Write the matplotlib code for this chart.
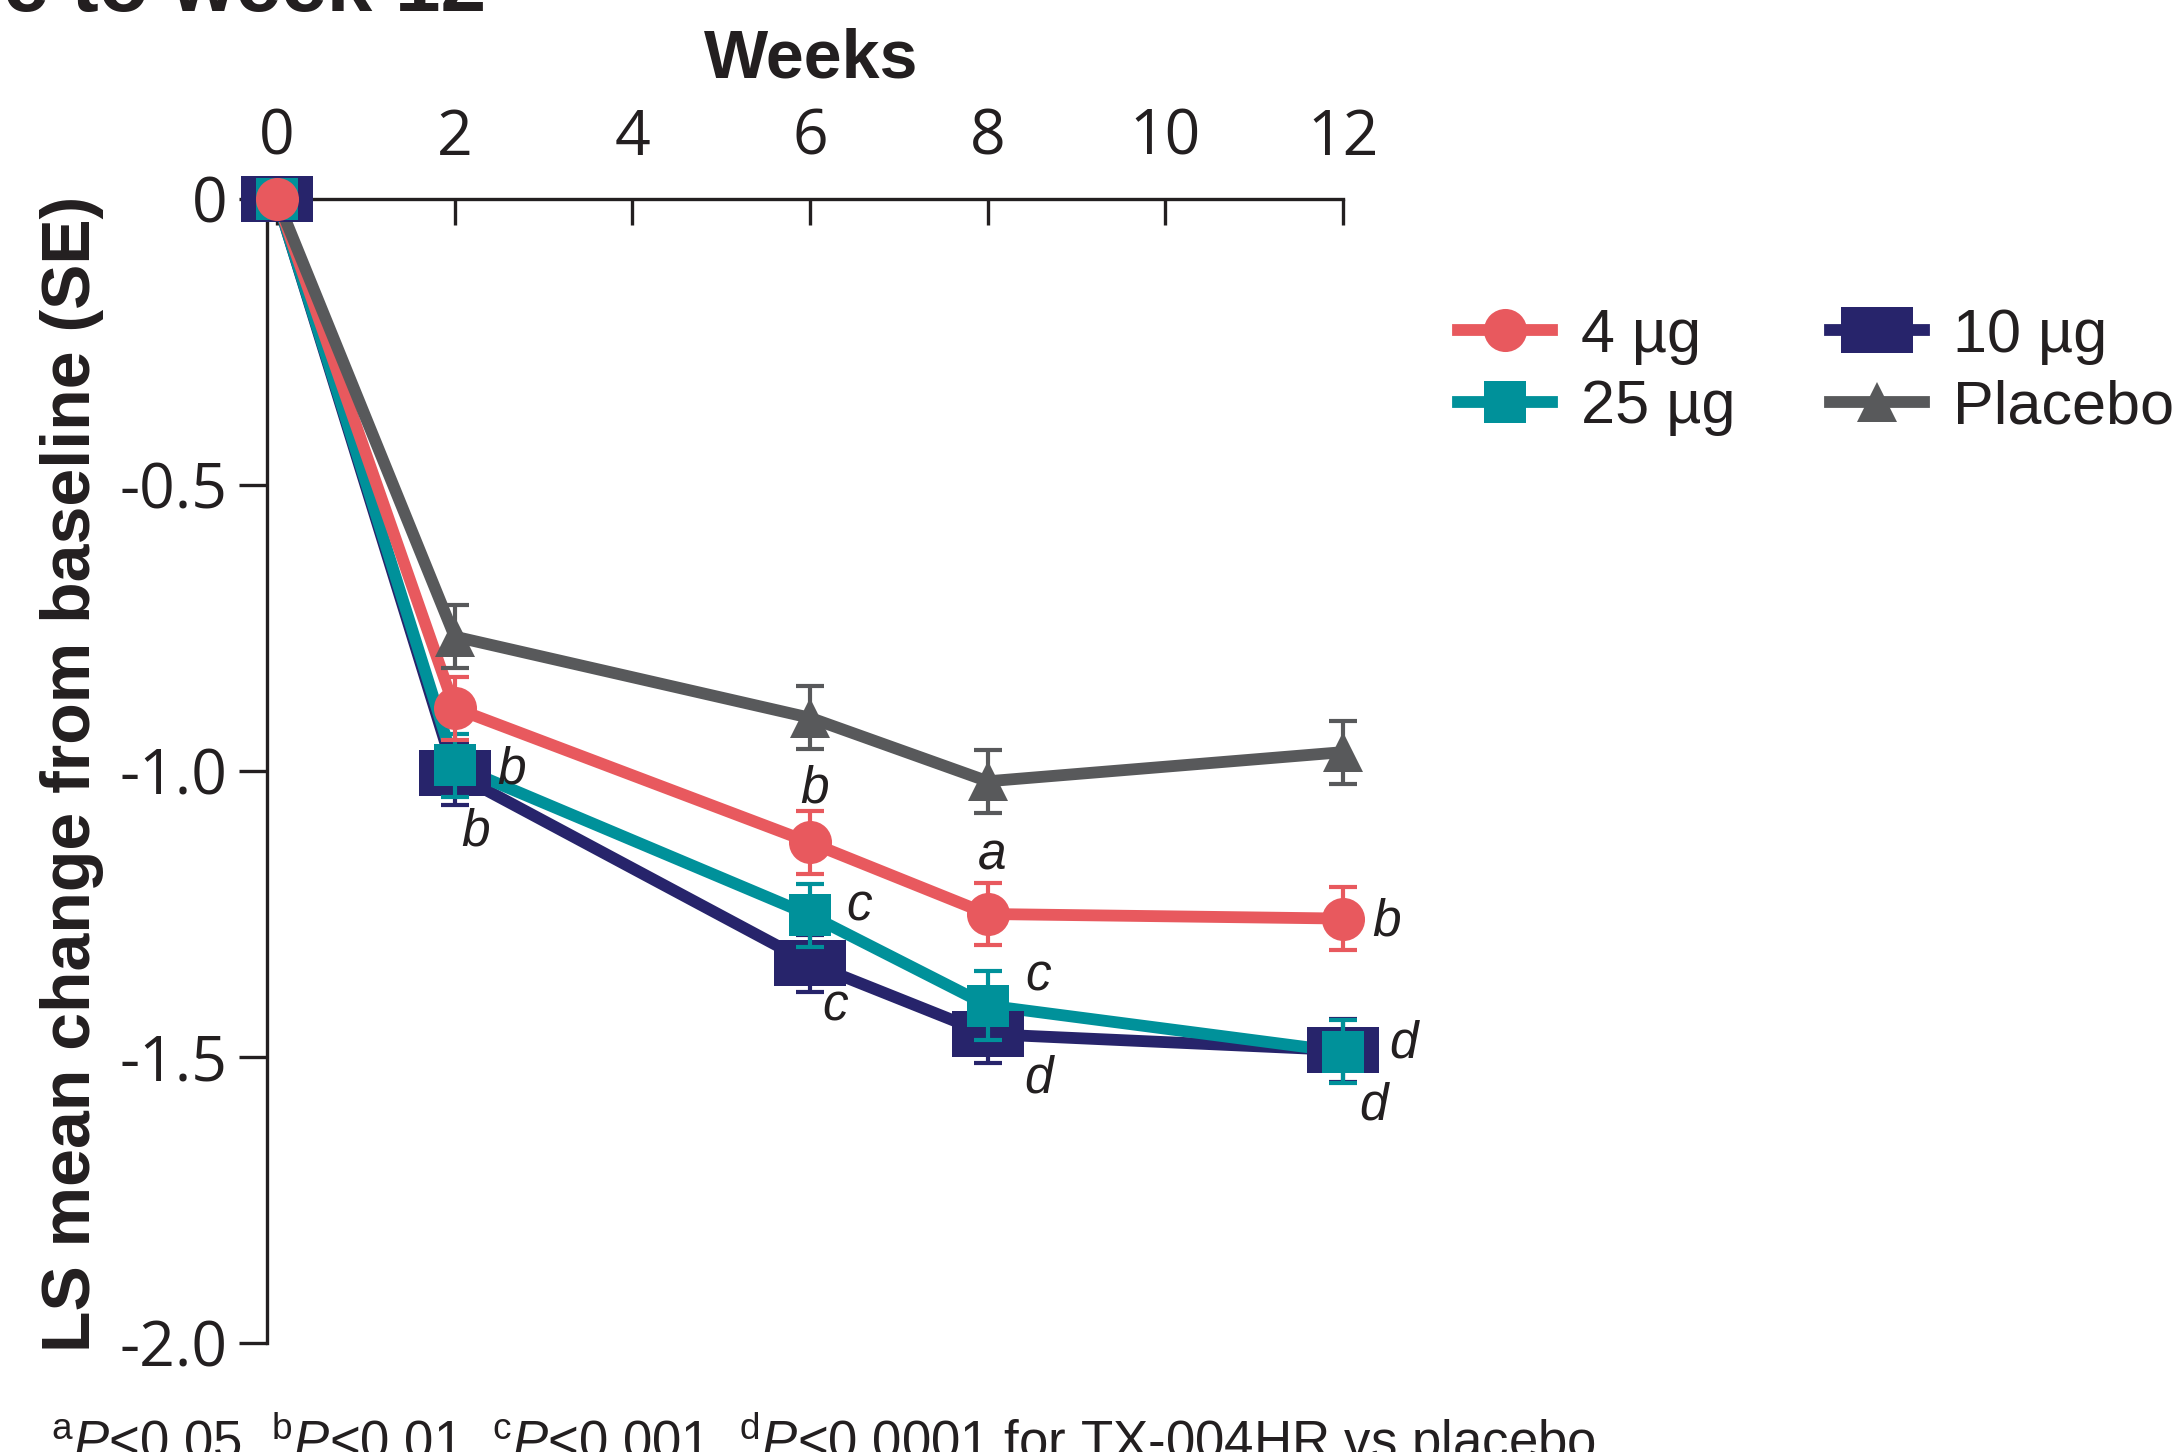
import matplotlib
matplotlib.use("Agg")
import matplotlib.pyplot as plt
from matplotlib.legend_handler import HandlerTuple

# LS mean change from baseline (SE) at each visit
weeks = [0, 2, 6, 8, 12]

mean_4ug = [0, -0.890, -1.125, -1.250, -1.258]
se_4ug = [0, 0.055, 0.055, 0.055, 0.055]
sig_4ug = ["", "", "b", "a", "b"]

mean_10ug = [0, -1.004, -1.336, -1.460, -1.488]
se_10ug = [0, 0.055, 0.050, 0.050, 0.055]
sig_10ug = ["", "b", "c", "d", "d"]

mean_25ug = [0, -0.990, -1.252, -1.410, -1.491]
se_25ug = [0, 0.055, 0.055, 0.060, 0.055]
sig_25ug = ["", "b", "c", "c", "d"]

mean_placebo = [0, -0.765, -0.907, -1.018, -0.967]
se_placebo = [0, 0.055, 0.055, 0.055, 0.055]
sig_placebo = ["", "", "", "", ""]

week_ticks = [0, 2, 4, 6, 8, 10, 12]
week_ticklabels = ["0", "2", "4", "6", "8", "10", "12"]
y_ticks = [0, -0.5, -1.0, -1.5, -2.0]
y_ticklabels = ["0", "-0.5", "-1.0", "-1.5", "-2.0"]

footnote = (r"$^{\mathrm{a}}\mathit{P}$<0.05, $^{\mathrm{b}}\mathit{P}$<0.01, "
            r"$^{\mathrm{c}}\mathit{P}$<0.001, $^{\mathrm{d}}\mathit{P}$<0.0001 "
            "for TX-004HR vs placebo")

plt.rcParams["font.family"] = ["Liberation Sans", "DejaVu Sans"]
plt.rcParams["mathtext.fontset"] = "custom"
plt.rcParams["mathtext.rm"] = "Liberation Sans"
plt.rcParams["mathtext.it"] = "Liberation Sans:italic"

INK = "#231F20"
RED = "#E8595E"
TEAL = "#00919A"
NAVY = "#27246B"
GRAY = "#58595B"

rect = [(-1.6, -1), (1.6, -1), (1.6, 1), (-1.6, 1), (-1.6, -1)]

# label, means, se, letters, colour, marker, size, line z, marker z
series = [
    ("10 µg", mean_10ug, se_10ug, sig_10ug, NAVY, rect, 52, 2.0, 3.1),
    ("25 µg", mean_25ug, se_25ug, sig_25ug, TEAL, "s", 30, 2.1, 3.2),
    ("4 µg", mean_4ug, se_4ug, sig_4ug, RED, "o", 31, 2.2, 3.3),
    ("Placebo", mean_placebo, se_placebo, sig_placebo, GRAY, "^", 29, 2.3, 3.0),
]

# letter placement (left, baseline) in points from each point
sig_offsets = {
    "4 µg": [None, None, (-7, 29), (-7, 32), (21, -12)],
    "25 µg": [None, (31, -13), (26, -4), (27, 11), (33, -4)],
    "10 µg": [None, (5, -52), (9, -41), (26, -42), (12, -50)],
    "Placebo": [None] * 5,
}

fig = plt.figure(figsize=(21.78, 14.52), dpi=100)
ax = fig.add_axes([0.12245, 0.07507, 0.4942, 0.78788])

handles = {}
for label, mean, se, sig, color, marker, ms, lz, mz in series:
    line, = ax.plot(weeks, mean, color=color, lw=8.5, solid_joinstyle="miter",
                    zorder=lz, clip_on=False)
    ax.errorbar(weeks[1:], mean[1:], yerr=se[1:], fmt="none", ecolor=color,
                elinewidth=3, capsize=10, capthick=3, zorder=mz - 0.05,
                clip_on=False)
    mk, = ax.plot(weeks, mean, ls="none", marker=marker, ms=ms, mfc=color,
                  mec=color, mew=0, zorder=mz, clip_on=False)
    handles[label] = (line, mk)
    for w, v, letter, off in zip(weeks, mean, sig, sig_offsets[label]):
        if letter:
            ax.annotate(letter, (w, v), xytext=off, textcoords="offset points",
                        ha="left", va="baseline", fontsize=37, style="italic",
                        color=INK, zorder=5, annotation_clip=False)

ax.set_xlim(-0.116, 12)
ax.set_ylim(-2.0, 0)

for side in ("right", "bottom"):
    ax.spines[side].set_visible(False)
for side in ("left", "top"):
    ax.spines[side].set_linewidth(2.4)
    ax.spines[side].set_color(INK)
    ax.spines[side].set_zorder(1)

ax.xaxis.tick_top()
ax.set_xticks(week_ticks)
ax.set_xticklabels(week_ticklabels, fontfamily="Open Sans")
ax.set_yticks(y_ticks)
ax.set_yticklabels(y_ticklabels, fontfamily="Open Sans")
ax.tick_params(axis="x", direction="in", length=19, width=2.4, pad=21,
               labelsize=45, colors=INK)
ax.tick_params(axis="y", direction="out", length=20, width=2.4, pad=8,
               labelsize=45, colors=INK)

fig.text(811 / 2178, 1 - 77 / 1452, "Weeks", ha="center", va="baseline",
         fontsize=49, fontweight="bold", color=INK)
fig.text(72 / 2178, 1 - 774 / 1452, "LS mean change from baseline (SE)",
         rotation=90, ha="center", va="center", fontsize=49,
         fontweight="bold", color=INK)
fig.text(486 / 2178, 1 - 11 / 1452,
         "Severity of dyspareunia: change from baseline to week 12",
         ha="right", va="baseline", fontsize=59, fontweight="bold", color=INK)
fig.text(51 / 2178, -7 / 1452, footnote, ha="left", va="baseline",
         fontsize=38, color=INK)

order = ["4 µg", "25 µg", "10 µg", "Placebo"]
fig.legend([handles[k] for k in order], order, ncol=2, loc="upper left",
           bbox_to_anchor=(1458 / 2178, 0.788), frameon=False,
           fontsize=44, handlelength=1.53, handletextpad=0.48,
           columnspacing=1.55, labelspacing=0.24, borderpad=0,
           borderaxespad=0, labelcolor=INK,
           handler_map={tuple: HandlerTuple(ndivide=1, pad=0)})

fig.savefig("out.png", dpi=100)
